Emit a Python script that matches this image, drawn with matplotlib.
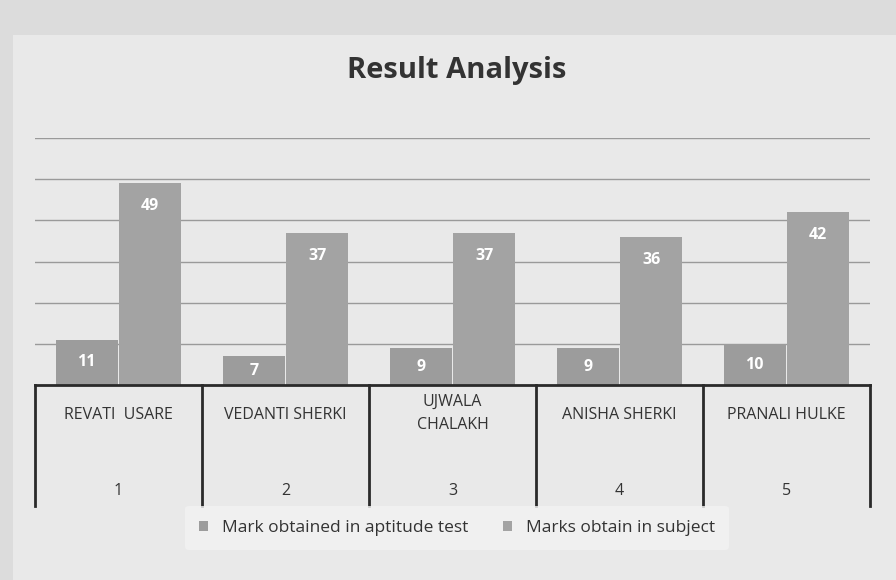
import matplotlib
matplotlib.use("Agg")
import matplotlib.pyplot as plt
from matplotlib.transforms import blended_transform_factory
from matplotlib.patches import Rectangle, Patch

names = ["REVATI  USARE", "VEDANTI SHERKI", "UJWALA\nCHALAKH", "ANISHA SHERKI", "PRANALI HULKE"]
numbers = ["1", "2", "3", "4", "5"]
aptitude = [11, 7, 9, 9, 10]
subject = [49, 37, 37, 36, 42]
series_names = ["Mark obtained in aptitude test", "Marks obtain in subject"]

plt.rcParams['font.family'] = ['Open Sans', 'DejaVu Sans']

fig = plt.figure(figsize=(8.96, 5.8), dpi=100)
fig.patch.set_facecolor("#dcdcdc")
# chart area panel
fig.patches.append(Rectangle((0.015, 0.0), 0.985, 0.94, transform=fig.transFigure,
                             facecolor="#e9e9e9", edgecolor="none", zorder=-10))

ax = fig.add_axes([0.039, 0.336, 0.932, 0.426])
ax.set_facecolor("none")
x = list(range(len(names)))
w = 0.37
off = 0.19
c1 = "#9c9c9c"
c2 = "#a3a3a3"
b1 = ax.bar([i - off for i in x], aptitude, width=w, color=c1, zorder=3)
b2 = ax.bar([i + off for i in x], subject, width=w, color=c2, zorder=3)

for bars, vals in ((b1, aptitude), (b2, subject)):
    for r, v in zip(bars, vals):
        ypos = max(v - 5.6, v / 2)
        ax.text(r.get_x() + r.get_width() / 2, ypos, str(v), ha="center", va="center",
                color="white", fontsize=11.5, fontweight="bold", zorder=4)

ax.set_xlim(-0.5, 4.5)
ax.set_ylim(0, 60)
ax.set_yticks([10, 20, 30, 40, 50, 60])
ax.yaxis.grid(True, color="#9a9a9a", linewidth=1.0, zorder=0)
ax.tick_params(left=False, labelleft=False, bottom=False, labelbottom=False)
for s in ax.spines.values():
    s.set_visible(False)

trans = blended_transform_factory(ax.transData, ax.transAxes)
ax.plot([-0.5, 4.5], [0, 0], transform=trans, color="#2a2a2a", lw=2, clip_on=False, zorder=5)
for b in [-0.5, 0.5, 1.5, 2.5, 3.5, 4.5]:
    ax.plot([b, b], [0, -0.49], transform=trans, color="#2a2a2a", lw=2, clip_on=False)
for i, (n, num) in enumerate(zip(names, numbers)):
    if "\n" in n:
        ax.text(i, -0.035, n, transform=trans, ha="center", va="top", fontsize=11.5,
                color="#333333", linespacing=1.6)
    else:
        ax.text(i, -0.12, n, transform=trans, ha="center", va="center", fontsize=11.5,
                color="#333333")
    ax.text(i, -0.43, num, transform=trans, ha="center", va="center", fontsize=11.5,
            color="#333333")

fig.text(0.51, 0.878, "Result Analysis", ha="center", va="center", fontsize=21,
         fontweight="bold", color="#333333")

handles = [Patch(facecolor=c1), Patch(facecolor=c2)]
leg = fig.legend(handles, series_names, loc="center", bbox_to_anchor=(0.51, 0.09),
                 ncol=2, frameon=True, fontsize=12.5, handlelength=0.5, handleheight=0.5,
                 columnspacing=2.0, borderpad=0.8)
leg.get_frame().set_facecolor("#f2f2f2")
leg.get_frame().set_edgecolor("none")
for t in leg.get_texts():
    t.set_color("#333333")

fig.savefig("out.png", dpi=100, facecolor=fig.get_facecolor())
